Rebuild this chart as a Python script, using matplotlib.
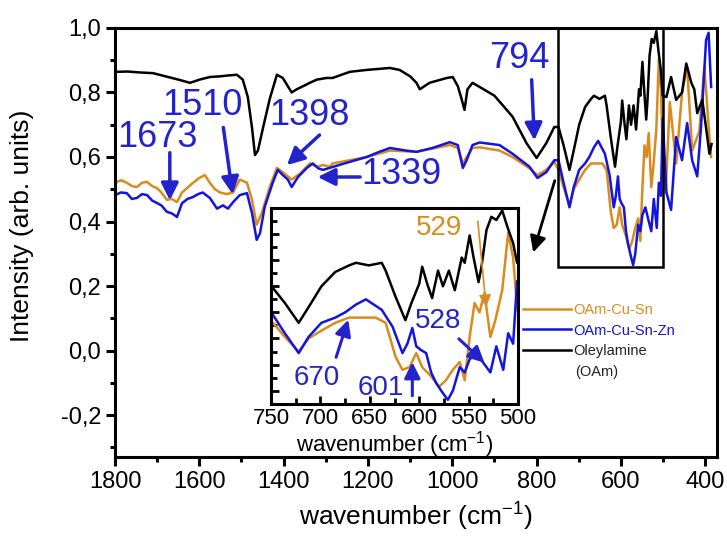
import matplotlib
matplotlib.use("Agg")
import matplotlib.pyplot as plt
from matplotlib.patches import Rectangle
from matplotlib.ticker import MultipleLocator, FuncFormatter

plt.rcParams['font.family'] = ['Liberation Sans', 'DejaVu Sans']
plt.rcParams['mathtext.fontset'] = 'custom'
plt.rcParams['mathtext.rm'] = 'Liberation Sans'
plt.rcParams['mathtext.default'] = 'regular'

# FTIR spectra (wavenumber in cm-1, normalised intensity)
oam_wn = [1800, 1770, 1740, 1710, 1680, 1650, 1622, 1599, 1575, 1551, 1530, 1511,
          1497, 1485, 1475, 1468, 1461, 1449, 1433, 1416, 1402, 1381, 1369, 1350,
          1338, 1321, 1298, 1284, 1243, 1203, 1148, 1125, 1100, 1085, 1077, 1054,
          1013, 999, 987, 978, 971, 964, 952, 935, 900, 857, 824, 800, 777, 758,
          748, 736, 722, 712, 699, 685, 671, 664, 651, 638, 634, 624, 614, 608,
          600, 597, 592, 587, 581, 576, 570, 564, 557, 554, 549, 545, 540, 537,
          532, 527, 522, 516, 511, 505, 501, 492, 481, 469, 455, 445, 433, 426,
          419, 407, 398, 390, 385]
oam_int = [0.864, 0.865, 0.862, 0.860, 0.850, 0.840, 0.830, 0.840, 0.848, 0.850, 0.853, 0.855,
           0.840, 0.786, 0.690, 0.606, 0.620, 0.690, 0.780, 0.855, 0.845, 0.800, 0.810, 0.822,
           0.830, 0.840, 0.845, 0.845, 0.864, 0.870, 0.876, 0.870, 0.850, 0.830, 0.810, 0.830,
           0.845, 0.848, 0.820, 0.780, 0.746, 0.810, 0.830, 0.817, 0.790, 0.725, 0.643, 0.597, 0.643, 0.693,
           0.693, 0.636, 0.560, 0.620, 0.700, 0.755, 0.780, 0.790, 0.780, 0.790, 0.760, 0.660, 0.570, 0.635,
           0.710, 0.775, 0.710, 0.655, 0.760, 0.700, 0.760, 0.685, 0.810, 0.790, 0.895, 0.810, 0.716, 0.775,
           0.915, 0.966, 0.954, 0.990, 0.930, 0.865, 0.790, 0.786, 0.848, 0.777, 0.800, 0.890, 0.830, 0.810,
           0.736, 0.777, 0.690, 0.610, 0.640]

cusnzn_wn = [1800, 1786, 1772, 1760, 1748, 1736, 1724, 1712, 1700, 1690, 1677, 1665,
             1653, 1641, 1628, 1615, 1603, 1592, 1575, 1558, 1544, 1532, 1520, 1504,
             1487, 1475, 1464, 1456, 1445, 1426, 1414, 1402, 1390, 1381, 1366, 1345,
             1331, 1318, 1307, 1291, 1284, 1243, 1203, 1175, 1148, 1110, 1085, 1047,
             1006, 987, 975, 966, 952, 935, 888, 857, 817, 798, 777, 758,
             748, 736, 722, 712, 699, 685, 675, 664, 654, 646, 638, 627, 617, 612,
             607, 603, 598, 593, 588, 583, 576, 571, 566, 559, 554, 549, 542, 535,
             528, 522, 515, 510, 505, 501, 492, 481, 469, 455, 443, 431, 419, 410,
             398, 392, 386]
cusnzn_int = [0.482, 0.490, 0.488, 0.470, 0.473, 0.485, 0.482, 0.465, 0.457, 0.450, 0.430, 0.425,
              0.414, 0.457, 0.470, 0.476, 0.485, 0.490, 0.473, 0.440, 0.450, 0.440, 0.460, 0.482,
              0.488, 0.426, 0.343, 0.364, 0.445, 0.520, 0.560, 0.544, 0.530, 0.507, 0.538, 0.566,
              0.580, 0.565, 0.560, 0.566, 0.569, 0.585, 0.600, 0.615, 0.628, 0.620, 0.616, 0.628,
              0.646, 0.637, 0.566, 0.590, 0.637, 0.645, 0.637, 0.610, 0.570, 0.535, 0.553, 0.590,
              0.590, 0.520, 0.444, 0.506, 0.560, 0.580, 0.600, 0.630, 0.650, 0.630, 0.610, 0.545, 0.444, 0.480,
              0.540, 0.470, 0.455, 0.444, 0.370, 0.330, 0.290, 0.265, 0.300, 0.390, 0.370, 0.420, 0.444, 0.406,
              0.370, 0.470, 0.380, 0.520, 0.480, 0.720, 0.490, 0.436, 0.662, 0.590, 0.705, 0.590, 0.540, 0.693,
              0.963, 0.985, 0.817]

cusn_wn = [1800, 1786, 1772, 1760, 1748, 1736, 1724, 1712, 1700, 1690, 1677, 1665,
           1653, 1641, 1628, 1615, 1600, 1587, 1575, 1563, 1551, 1535, 1520, 1504,
           1487, 1475, 1464, 1452, 1433, 1416, 1402, 1381, 1360, 1338, 1320, 1307,
           1291, 1284, 1203, 1148, 1085, 1006, 987, 975, 966, 952, 935, 888,
           857, 817, 798, 777, 758,
           748, 736, 722, 712, 699, 685, 671, 661, 644, 634, 624, 617, 610, 603,
           597, 588, 580, 573, 566, 559, 554, 549, 544, 539, 534, 528, 523, 516,
           510, 505, 501, 494, 484, 469, 455, 443, 431, 414, 402, 390, 386]
cusn_int = [0.520, 0.528, 0.520, 0.510, 0.507, 0.520, 0.523, 0.510, 0.503, 0.490, 0.467, 0.470,
            0.460, 0.490, 0.505, 0.520, 0.535, 0.544, 0.520, 0.500, 0.490, 0.485, 0.490, 0.530,
            0.520, 0.467, 0.390, 0.426, 0.507, 0.566, 0.553, 0.530, 0.550, 0.580, 0.570, 0.575,
            0.570, 0.580, 0.600, 0.620, 0.616, 0.637, 0.628, 0.580, 0.600, 0.628, 0.630, 0.620,
            0.600, 0.565, 0.544, 0.560, 0.585,
            0.560, 0.506, 0.450, 0.500, 0.530, 0.560, 0.580, 0.580, 0.580, 0.560, 0.430, 0.380, 0.390, 0.444,
            0.390, 0.355, 0.315, 0.340, 0.380, 0.410, 0.340, 0.506, 0.636, 0.600, 0.674, 0.506, 0.570, 0.686,
            0.905, 0.810, 0.620, 0.490, 0.770, 0.580, 0.800, 0.880, 0.620, 0.680, 0.880, 0.660, 0.600]

series = [
    (cusn_wn, cusn_int, '#d98c1e', 'OAm-Cu-Sn'),
    (cusnzn_wn, cusnzn_int, '#1414e0', 'OAm-Cu-Sn-Zn'),
    (oam_wn, oam_int, 'black', 'Oleylamine'),
]

blue_txt = '#2323cc'
orange_txt = '#d98c1e'

fig = plt.figure(figsize=(7.27, 5.38), dpi=100)
ax = fig.add_axes([0.1582, 0.1506, 0.8281, 0.7974])

for wn, val, col, lab in series:
    ax.plot(wn, val, color=col, lw=1.8, label=lab)

ax.set_xlim(1800, 372)
ax.set_ylim(-0.33, 1.0)
ax.xaxis.set_major_locator(MultipleLocator(200))
ax.xaxis.set_minor_locator(MultipleLocator(100))
ax.yaxis.set_major_locator(MultipleLocator(0.2))
ax.yaxis.set_minor_locator(MultipleLocator(0.1))
ax.yaxis.set_major_formatter(FuncFormatter(lambda v, p: ('%.1f' % v).replace('.', ',')))
ax.tick_params(which='both', direction='out', width=2.2, labelsize=17, top=False, right=False)
ax.tick_params(which='major', length=6.5)
ax.tick_params(which='minor', length=3.5)
for sp in ax.spines.values():
    sp.set_linewidth(2.2)
ax.set_xlabel('wavenumber (cm$^{-1}$)', fontsize=19, labelpad=6)
ax.set_ylabel('Intensity (arb. units)', fontsize=19)
ax.yaxis.set_label_coords(-0.135, 0.54)

# region shown in the inset
ax.add_patch(Rectangle((500, 0.26), 250, 0.74, fill=False, lw=1.8, ec='black', zorder=5))

arrow_kw = dict(arrowstyle='-|>', color=blue_txt, lw=2.5, mutation_scale=26)
main_marks = [
    ('1673', (1700, 0.662), (1670, 0.622), (1670, 0.457)),
    ('1510', (1592, 0.761), (1544, 0.700), (1520, 0.476)),
    ('1398', (1340, 0.730), (1310, 0.674), (1397, 0.569)),
    ('794', (841, 0.904), (812, 0.848), (805, 0.643)),
]
for lab, txt_xy, tail, head in main_marks:
    ax.text(*txt_xy, lab, color=blue_txt, fontsize=26, ha='center', va='center')
    ax.annotate('', xy=head, xytext=tail, arrowprops=arrow_kw)
ax.text(1215, 0.547, '1339', color=blue_txt, fontsize=26, ha='left', va='center')
ax.annotate('', xy=(1326, 0.538), xytext=(1212, 0.538), arrowprops=arrow_kw)

# arrow from the marked region down to the inset
ax.annotate('', xy=(810, 0.296), xytext=(755, 0.535),
            arrowprops=dict(arrowstyle='-|>', color='black', lw=2, mutation_scale=24), zorder=6)

leg = ax.legend(loc='upper left', bbox_to_anchor=(523 / 727, 1 - 303 / 538),
                bbox_transform=fig.transFigure, frameon=False, fontsize=10.5,
                handlelength=3.3, handletextpad=0.15, labelspacing=0.45, borderpad=0,
                borderaxespad=0)
leg.get_texts()[0].set_color('#d98c1e')
leg.get_texts()[1].set_color('#1414c8')
leg.get_texts()[2].set_color('#222222')
fig.text(575 / 727, 1 - 372 / 538, '(OAm)', fontsize=10.5, color='#222222', va='center')

# inset: 750-500 cm-1 detail
axin = fig.add_axes([0.3728, 0.2491, 0.3398, 0.3643])
for wn, val, col, lab in series:
    axin.plot(wn, val, color=col, lw=1.8)
axin.set_xlim(750, 500)
axin.set_ylim(0.249, 1.0)
axin.xaxis.set_major_locator(MultipleLocator(50))
axin.xaxis.set_minor_locator(MultipleLocator(25))
axin.yaxis.set_major_locator(MultipleLocator(0.1))
axin.yaxis.set_minor_locator(MultipleLocator(0.05))
axin.tick_params(which='both', direction='in', width=2, labelsize=16, top=False, right=False,
                 labelleft=False, pad=3)
axin.tick_params(which='major', length=6)
axin.tick_params(which='minor', length=4)
for sp in axin.spines.values():
    sp.set_linewidth(2.2)
axin.set_xlabel('wavenumber (cm$^{-1}$)', fontsize=16, labelpad=0)

in_arrow = dict(arrowstyle='-|>', color=blue_txt, lw=2.2, mutation_scale=24)
axin.text(704, 0.349, '670', color=blue_txt, fontsize=20, ha='center', va='center')
axin.annotate('', xy=(671, 0.582), xytext=(685, 0.418), arrowprops=in_arrow)
axin.text(639, 0.31, '601', color=blue_txt, fontsize=20, ha='center', va='center')
axin.annotate('', xy=(607, 0.42), xytext=(607, 0.27), arrowprops=in_arrow)
axin.text(581, 0.567, '528', color=blue_txt, fontsize=20, ha='center', va='center')
axin.annotate('', xy=(532, 0.40), xytext=(562, 0.506), arrowprops=in_arrow)
axin.text(580, 0.923, '529', color=orange_txt, fontsize=20, ha='center', va='center')
axin.annotate('', xy=(532, 0.61), xytext=(541, 0.96),
              arrowprops=dict(arrowstyle='-|>', color=orange_txt, lw=1.2, mutation_scale=18))

fig.savefig('out.png', dpi=100)
